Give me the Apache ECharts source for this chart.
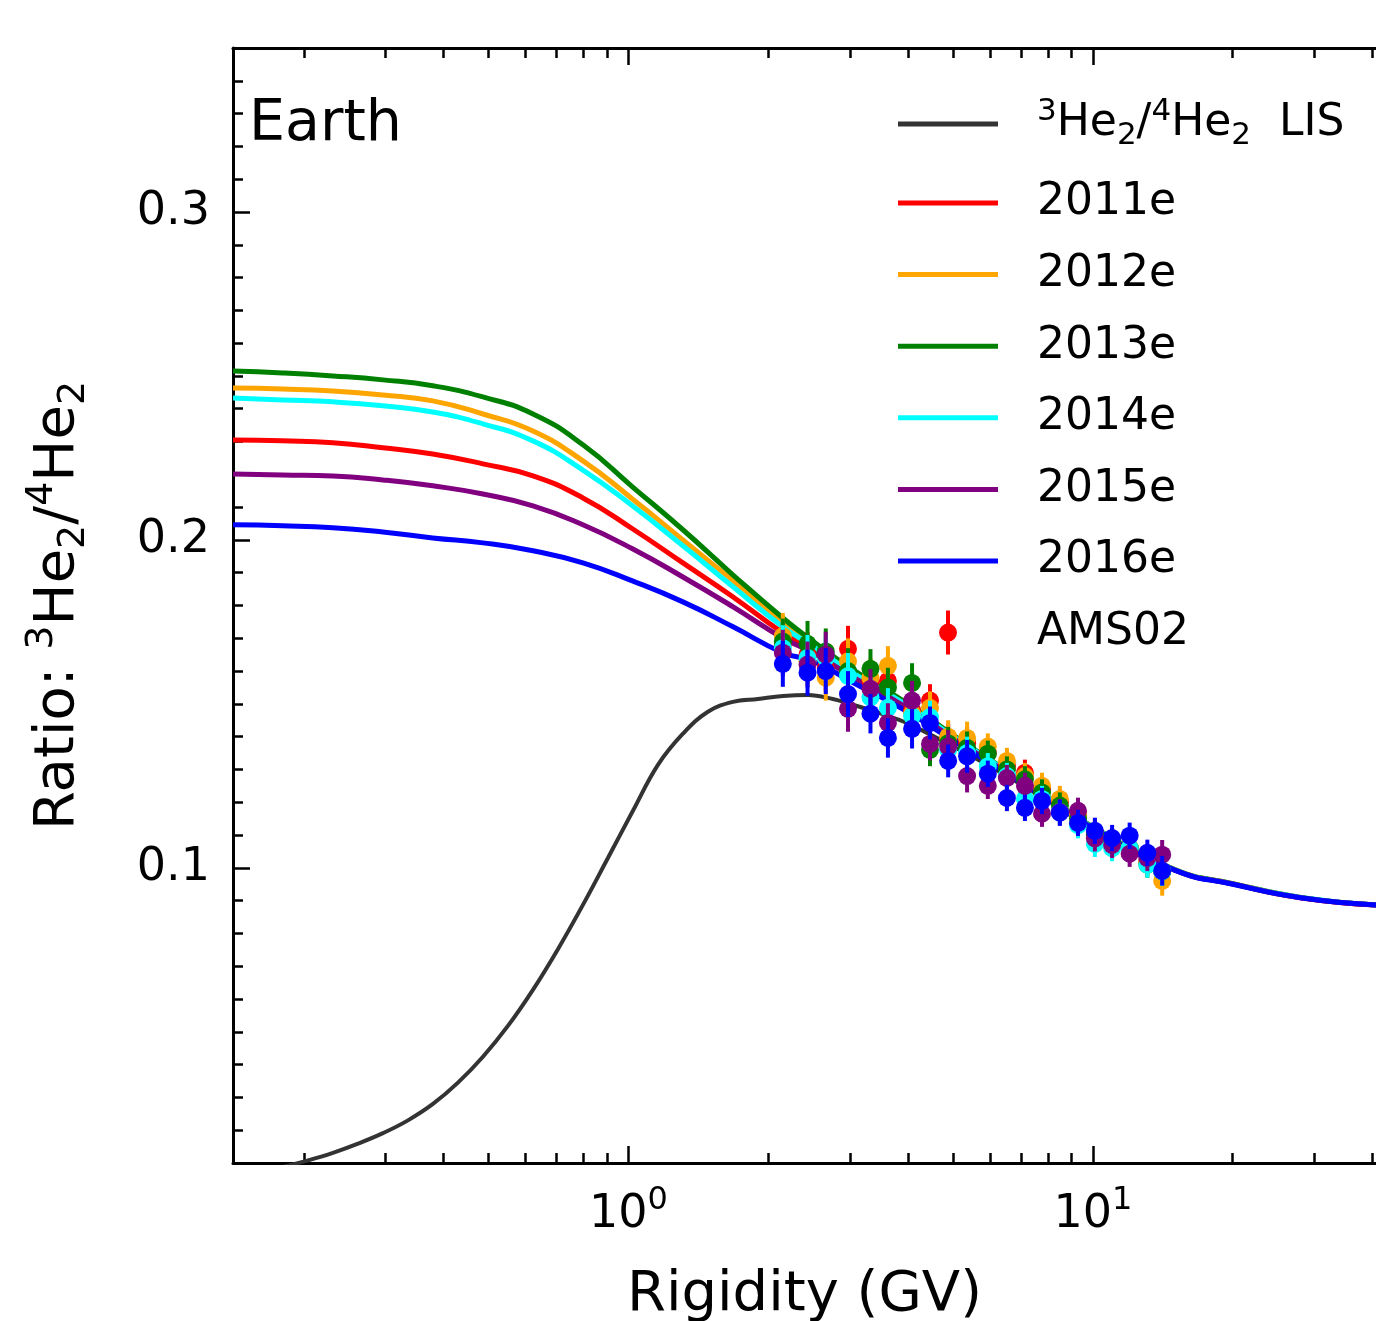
<!DOCTYPE html>
<html>
<head>
<meta charset="utf-8">
<title>3He/4He ratio at Earth</title>
<script src="https://cdn.jsdelivr.net/npm/echarts@6/dist/echarts.min.js"></script>
<style>
  html, body { margin: 0; padding: 0; background: #fff; }
  #chart { width: 1376px; height: 1321px; }
</style>
</head>
<body>
<div id="chart"></div>
<script>
// rigidity grid of the model curves (GV)
var rigModel = [0.1408, 0.180, 0.231, 0.296, 0.379, 0.486, 0.623, 0.798, 1.02, 1.31, 1.68, 2.15, 2.5, 3.0, 4.0, 5.0, 6.0, 8.0, 10, 15, 20, 28, 40.7];
var ratio2011e = [0.2305, 0.2302, 0.2296, 0.2281, 0.2262, 0.2232, 0.2195, 0.2128, 0.2034, 0.1930, 0.1826, 0.1717, 0.1665, 0.1593, 0.1490, 0.1398, 0.1326, 0.1212, 0.1122, 0.0994, 0.0951, 0.0909, 0.0887];
var ratio2012e = [0.2463, 0.2460, 0.2454, 0.2442, 0.2424, 0.2384, 0.2332, 0.2241, 0.2125, 0.2000, 0.1875, 0.1750, 0.1683, 0.1605, 0.1497, 0.1403, 0.1329, 0.1214, 0.1124, 0.0995, 0.0952, 0.0910, 0.0887];
var ratio2013e = [0.2515, 0.2509, 0.2500, 0.2488, 0.2470, 0.2436, 0.2384, 0.2290, 0.2162, 0.2031, 0.1893, 0.1762, 0.1690, 0.1610, 0.1500, 0.1405, 0.1330, 0.1215, 0.1125, 0.0995, 0.0952, 0.0910, 0.0887];
var ratio2014e = [0.2433, 0.2427, 0.2421, 0.2409, 0.2390, 0.2354, 0.2302, 0.2213, 0.2104, 0.1982, 0.1857, 0.1735, 0.1675, 0.1600, 0.1494, 0.1401, 0.1328, 0.1213, 0.1123, 0.0994, 0.0951, 0.0910, 0.0887];
var ratio2015e = [0.2201, 0.2198, 0.2195, 0.2183, 0.2165, 0.2140, 0.2104, 0.2046, 0.1973, 0.1887, 0.1796, 0.1701, 0.1655, 0.1587, 0.1486, 0.1395, 0.1324, 0.1211, 0.1121, 0.0993, 0.0951, 0.0909, 0.0887];
var ratio2016e = [0.2046, 0.2043, 0.2037, 0.2024, 0.2006, 0.1991, 0.1967, 0.1930, 0.1875, 0.1811, 0.1735, 0.1656, 0.1630, 0.1570, 0.1475, 0.1388, 0.1320, 0.1209, 0.1120, 0.0993, 0.0950, 0.0909, 0.0887];

// local interstellar spectrum ratio
var rigLIS = [0.1804, 0.2042, 0.2311, 0.2617, 0.2961, 0.3352, 0.3794, 0.4295, 0.4861, 0.5502, 0.6228, 0.7050, 0.7980, 0.9033, 1.0226, 1.1575, 1.3101, 1.4830, 1.6788, 1.9001, 2.1508, 2.4346, 2.7556, 3.0, 3.5, 4.0, 5.0, 6.0, 8.0, 10, 15, 20, 28, 40.7];
var ratioLIS = [0.0088, 0.0108, 0.0131, 0.0159, 0.0191, 0.0230, 0.0280, 0.0345, 0.0424, 0.0518, 0.0628, 0.0752, 0.0887, 0.1030, 0.1174, 0.1314, 0.1409, 0.1476, 0.1506, 0.1515, 0.1524, 0.1527, 0.1515, 0.1500, 0.1470, 0.1440, 0.1370, 0.1310, 0.1205, 0.1118, 0.0993, 0.0950, 0.0908, 0.0886];

// AMS02 bins and measured ratios per year
var rigBins = [2.15, 2.43, 2.66, 2.97, 3.32, 3.62, 4.08, 4.46, 4.88, 5.36, 5.94, 6.53, 7.14, 7.77, 8.49, 9.29, 10.1, 11.0, 12.0, 13.1, 14.1];
var ams2011 = [0.168, 0.165, 0.161, 0.1668, 0.157, 0.157, 0.148, 0.151, 0.139, 0.138, 0.135, 0.131, 0.129, 0.124, 0.120, 0.116, 0.111, 0.108, 0.106, 0.102, 0.099];
var ams2012 = [0.1707, 0.163, 0.158, 0.163, 0.158, 0.1616, 0.147, 0.1488, 0.140, 0.1396, 0.137, 0.1326, 0.128, 0.125, 0.121, 0.116, 0.110, 0.108, 0.106, 0.102, 0.096];
var ams2013 = [0.169, 0.1683, 0.166, 0.160, 0.1607, 0.155, 0.1564, 0.136, 0.138, 0.1366, 0.1348, 0.130, 0.127, 0.123, 0.119, 0.115, 0.110, 0.108, 0.106, 0.101, 0.099];
var ams2014 = [0.167, 0.164, 0.164, 0.1585, 0.152, 0.1488, 0.1463, 0.146, 0.136, 0.135, 0.131, 0.128, 0.121, 0.121, 0.117, 0.113, 0.1073, 0.106, 0.106, 0.101, 0.099];
var ams2015 = [0.1656, 0.162, 0.165, 0.1485, 0.1546, 0.1442, 0.151, 0.1378, 0.137, 0.128, 0.125, 0.1274, 0.125, 0.1165, 0.117, 0.1174, 0.109, 0.107, 0.1043, 0.103, 0.104];
var ams2016 = [0.1622, 0.1595, 0.160, 0.153, 0.147, 0.1396, 0.1424, 0.1442, 0.1326, 0.134, 0.1287, 0.1213, 0.1183, 0.1204, 0.1168, 0.1137, 0.1113, 0.1091, 0.1098, 0.1046, 0.0991];
var amsErr = [0.007, 0.007, 0.007, 0.007, 0.006, 0.006, 0.006, 0.005, 0.005, 0.005, 0.004, 0.004, 0.004, 0.004, 0.004, 0.004, 0.004, 0.004, 0.004, 0.004, 0.0045];

// axis ticks
var xMajor = [1, 10];
var xMinor = [0.2, 0.3, 0.4, 0.5, 0.6, 0.7, 0.8, 0.9, 2, 3, 4, 5, 6, 7, 8, 9, 20, 30, 40];
var yMajor = [0.1, 0.2, 0.3];
var yMinor = [];
for (var k = 1; k <= 35; k++) { if (k % 10 !== 0) yMinor.push(k / 100); }

var FONT = 'DejaVu Sans';
var xMin = 0.1408, xMax = 40.7, yMin = 0.01, yMax = 0.35;

var years = ['2011e', '2012e', '2013e', '2014e', '2015e', '2016e'];
var colors = ['#ff0000', '#ffa500', '#008000', '#00ffff', '#800080', '#0000ff'];
var models = [ratio2011e, ratio2012e, ratio2013e, ratio2014e, ratio2015e, ratio2016e];
var points = [ams2011, ams2012, ams2013, ams2014, ams2015, ams2016];
var lisName = 'LIS';

function pairs(xs, ys) {
  var out = [];
  for (var i = 0; i < xs.length; i++) out.push([xs[i], ys[i]]);
  return out;
}

function errRender(params, api) {
  var x = api.value(0), y = api.value(1), e = api.value(2);
  var p = api.coord([x, y]);
  var hi = api.coord([x, y + e]);
  var lo = api.coord([x, y - e]);
  var c = api.visual('color');
  return {
    type: 'group',
    children: [
      { type: 'line', shape: { x1: p[0], y1: hi[1], x2: p[0], y2: lo[1] }, style: { stroke: c, lineWidth: 4 } },
      { type: 'circle', shape: { cx: p[0], cy: p[1], r: 9 }, style: { fill: c } }
    ]
  };
}

var lineIcon = 'path://M0,0 H100 V5 H0 Z';
var amsIcon = 'path://M7,0 H11 V15 H7 Z M7,29 H11 V44 H7 Z M0,22 A9,9 0 1,1 18,22 A9,9 0 1,1 0,22 Z';

var series = [];
series.push({
  name: lisName, type: 'line', data: pairs(rigLIS, ratioLIS),
  symbol: 'none', smooth: 0.4, color: '#333333',
  lineStyle: { width: 4, color: '#333333' }, itemStyle: { borderWidth: 0 }, z: 2
});
for (var i = 0; i < years.length; i++) {
  series.push({
    name: years[i], type: 'line', data: pairs(rigModel, models[i]),
    symbol: 'none', smooth: 0.5, color: colors[i],
    lineStyle: { width: 5, color: colors[i] }, itemStyle: { borderWidth: 0 }, z: 3
  });
}
for (var j = 0; j < years.length; j++) {
  var rows = [];
  for (var b = 0; b < rigBins.length; b++) rows.push([rigBins[b], points[j][b], amsErr[b]]);
  series.push({
    name: j === 0 ? 'AMS02' : 'AMS02 ' + years[j], type: 'custom', renderItem: errRender,
    data: rows, encode: { x: 0, y: 1 }, color: colors[j], itemStyle: { color: colors[j] }, z: 5 + j
  });
}

var tickStyle = { color: '#000', width: 2.5 };

function xAxisDef(pos, ticks, len, main) {
  return {
    type: 'log', position: pos, min: xMin, max: xMax, logBase: 10,
    axisLine: { show: main, lineStyle: { color: '#000', width: 3 } },
    axisTick: { show: true, inside: true, length: len, customValues: ticks, lineStyle: tickStyle },
    minorTick: { show: false }, splitLine: { show: false },
    axisLabel: { show: false }
  };
}
function yAxisDef(ticks, len, main) {
  return {
    type: 'value', position: 'left', min: yMin, max: yMax,
    axisLine: { show: main, onZero: false, lineStyle: { color: '#000', width: 3 } },
    axisTick: { show: true, inside: true, length: len, customValues: ticks, lineStyle: tickStyle },
    splitLine: { show: false },
    axisLabel: { show: false }
  };
}

var xBottom = xAxisDef('bottom', xMajor, 17, true);
xBottom.axisLabel = {
  show: true, customValues: xMajor, margin: 22, fontSize: 46, fontFamily: FONT, color: '#000', lineHeight: 60,
  formatter: function (v) { return '10{sup|' + Math.round(Math.log10(v)) + '}'; },
  rich: { sup: { fontSize: 32, lineHeight: 32, verticalAlign: 'top', fontFamily: FONT, color: '#000' } }
};
xBottom.name = 'Rigidity (GV)';
xBottom.nameLocation = 'middle';
xBottom.nameGap = 104;
xBottom.nameTextStyle = { fontSize: 56, fontFamily: FONT, color: '#000' };

var yLeft = yAxisDef(yMajor, 17, true);
yLeft.axisLabel = { show: true, customValues: yMajor, margin: 23, fontSize: 46, fontFamily: FONT, color: '#000' };
yLeft.name = 'Ratio: {sup|3}He{sub|2}/{sup|4}He{sub|2}';
yLeft.nameLocation = 'middle';
yLeft.nameGap = 140;
yLeft.nameTextStyle = {
  fontSize: 56, fontFamily: FONT, color: '#000', lineHeight: 70,
  rich: {
    sup: { fontSize: 38, lineHeight: 26, verticalAlign: 'top', fontFamily: FONT, color: '#000' },
    sub: { fontSize: 38, lineHeight: 44, verticalAlign: 'bottom', fontFamily: FONT, color: '#000' }
  }
};

var lisText = {
  fontSize: 44, fontFamily: FONT, color: '#000', padding: [0, 0, 0, 34], lineHeight: 55,
  rich: {
    sup: { fontSize: 31, lineHeight: 20, verticalAlign: 'top', fontFamily: FONT, color: '#000' },
    sub: { fontSize: 31, lineHeight: 35, verticalAlign: 'bottom', fontFamily: FONT, color: '#000' }
  }
};
var yearText = { fontSize: 44, fontFamily: FONT, color: '#000', padding: [0, 0, 0, 34], lineHeight: 44 };

var legendRows = [];
for (var m = 0; m < years.length; m++) legendRows.push({ name: years[m], icon: lineIcon });
legendRows.push({ name: 'AMS02', icon: amsIcon });

var option = {
  animation: false,
  backgroundColor: '#fff',
  title: {
    text: 'Earth', left: 249, top: 97, padding: 0,
    textStyle: { fontSize: 57, fontWeight: 'normal', fontFamily: FONT, color: '#000' }
  },
  grid: { left: 233, right: 0, top: 48, bottom: 158, containLabel: false, outerBoundsMode: 'none' },
  legend: [
    {
      data: [{ name: lisName, icon: lineIcon }], orient: 'vertical', left: 898, top: 96.5, padding: 0,
      itemWidth: 100, itemHeight: 44, selectedMode: false, itemStyle: { borderWidth: 0 },
      textStyle: lisText,
      formatter: function () { return '{sup|3}He{sub|2}/{sup|4}He{sub|2}  LIS'; }
    },
    {
      data: legendRows, orient: 'vertical', left: 898, top: 181, itemGap: 27.6, padding: 0,
      itemWidth: 100, itemHeight: 44, selectedMode: false, itemStyle: { borderWidth: 0 },
      textStyle: yearText
    }
  ],
  xAxis: [
    xBottom,
    xAxisDef('bottom', xMinor, 10, false),
    xAxisDef('top', xMajor, 17, true),
    xAxisDef('top', xMinor, 10, false)
  ],
  yAxis: [
    yLeft,
    yAxisDef(yMinor, 10, false)
  ],
  series: series
};

var chart = echarts.init(document.getElementById('chart'));
chart.setOption(option);
</script>
</body>
</html>
